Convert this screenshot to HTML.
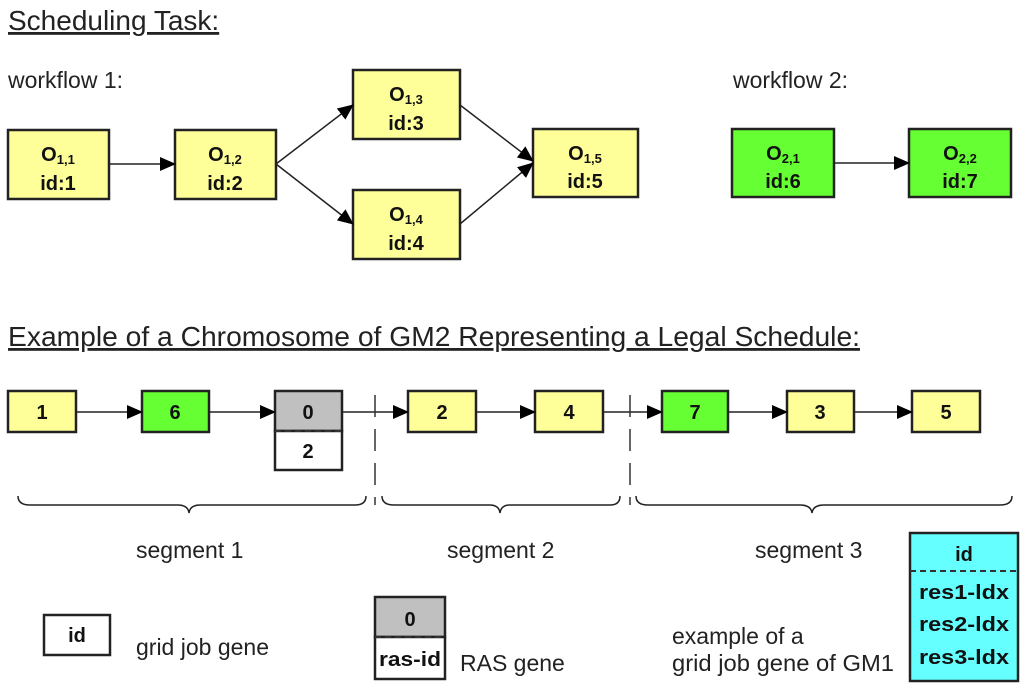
<!DOCTYPE html>
<html><head><meta charset="utf-8"><style>
html,body{margin:0;padding:0;background:#fff;}
svg{display:block;font-family:"Liberation Sans",Arial,sans-serif;}
.b{font-weight:bold;font-size:20px;fill:#111;}
.t{font-size:23px;fill:#222;}
</style></head><body>
<svg width="1024" height="689" viewBox="0 0 1024 689" xmlns="http://www.w3.org/2000/svg">
<defs><marker id="a" markerWidth="16" markerHeight="14" refX="15" refY="7" orient="auto" markerUnits="userSpaceOnUse"><path d="M0,0 L16,7 L0,14 z" fill="#000"/></marker></defs>
<text x="8" y="30" font-size="28" fill="#222" text-decoration="underline">Scheduling Task:</text>
<text x="8" y="88" class="t">workflow 1:</text>
<text x="733" y="88" class="t">workflow 2:</text>
<g stroke="#222" stroke-width="2.5">
<rect x="8" y="130" width="101" height="69" fill="#ffff99"/>
<rect x="175" y="130" width="101" height="69" fill="#ffff99"/>
<rect x="353" y="70" width="107" height="69" fill="#ffff99"/>
<rect x="353" y="190" width="107" height="69" fill="#ffff99"/>
<rect x="533" y="129" width="105" height="68" fill="#ffff99"/>
<rect x="732" y="129" width="102" height="68" fill="#66ff33"/>
<rect x="909" y="129" width="102" height="68" fill="#66ff33"/>
</g>
<g stroke="#222" stroke-width="1.5" fill="none" marker-end="url(#a)">
<line x1="109" y1="164" x2="175" y2="164"/>
<line x1="276" y1="164" x2="353" y2="105"/>
<line x1="276" y1="164" x2="353" y2="224"/>
<line x1="460" y1="105" x2="533" y2="161"/>
<line x1="460" y1="224" x2="533" y2="163"/>
<line x1="834" y1="163" x2="909" y2="163"/>
</g>
<g class="b" text-anchor="middle">
<text x="58" y="161">O<tspan font-size="13" dy="3">1,1</tspan></text><text x="58" y="190">id:1</text>
<text x="225" y="161">O<tspan font-size="13" dy="3">1,2</tspan></text><text x="225" y="190">id:2</text>
<text x="406" y="101">O<tspan font-size="13" dy="3">1,3</tspan></text><text x="406" y="130">id:3</text>
<text x="406" y="221">O<tspan font-size="13" dy="3">1,4</tspan></text><text x="406" y="250">id:4</text>
<text x="585" y="160">O<tspan font-size="13" dy="3">1,5</tspan></text><text x="585" y="188">id:5</text>
<text x="783" y="160">O<tspan font-size="13" dy="3">2,1</tspan></text><text x="783" y="188">id:6</text>
<text x="960" y="160">O<tspan font-size="13" dy="3">2,2</tspan></text><text x="960" y="188">id:7</text>
</g>
<text x="8" y="346" font-size="28" fill="#222" text-decoration="underline" textLength="852" lengthAdjust="spacingAndGlyphs">Example of a Chromosome of GM2 Representing a Legal Schedule:</text>
<g stroke="#222" stroke-width="2.5">
<rect x="8" y="391" width="68" height="41" fill="#ffff99"/>
<rect x="142" y="391" width="67" height="41" fill="#66ff33"/>
<rect x="275" y="391" width="67" height="40" fill="#c0c0c0"/>
<rect x="275" y="431" width="67" height="39" fill="#fff"/>
<rect x="408" y="391" width="68" height="41" fill="#ffff99"/>
<rect x="535" y="391" width="68" height="41" fill="#ffff99"/>
<rect x="662" y="391" width="66" height="41" fill="#66ff33"/>
<rect x="787" y="391" width="67" height="41" fill="#ffff99"/>
<rect x="912" y="391" width="68" height="41" fill="#ffff99"/>
</g>
<line x1="275" y1="431" x2="342" y2="431" stroke="#333" stroke-width="2" stroke-dasharray="6,4"/>
<g stroke="#222" stroke-width="1.5" fill="none" marker-end="url(#a)">
<line x1="76" y1="412" x2="142" y2="412"/>
<line x1="209" y1="412" x2="275" y2="412"/>
<line x1="342" y1="412" x2="408" y2="412"/>
<line x1="476" y1="412" x2="535" y2="412"/>
<line x1="603" y1="412" x2="662" y2="412"/>
<line x1="728" y1="412" x2="787" y2="412"/>
<line x1="854" y1="412" x2="912" y2="412"/>
</g>
<g stroke="#333" stroke-width="1.5" stroke-dasharray="22,12">
<line x1="375" y1="395" x2="375" y2="505"/>
<line x1="630" y1="395" x2="630" y2="505"/>
</g>
<g stroke="#222" stroke-width="1.5" fill="none">
<path d="M18,496 Q18,505 30,505 L178,505 Q188,505 189,513 Q190,505 200,505 L355,505 Q366,505 366,496"/>
<path d="M382,496 Q382,505 394,505 L490,505 Q499,505 500,513 Q501,505 510,505 L610,505 Q620,505 620,496"/>
<path d="M636,496 Q636,505 648,505 L800,505 Q811,505 812,513 Q813,505 824,505 L1000,505 Q1012,505 1012,496"/>
</g>
<g class="b" text-anchor="middle">
<text x="42" y="419">1</text><text x="175" y="419">6</text><text x="308" y="419">0</text><text x="308" y="458">2</text>
<text x="442" y="419">2</text><text x="569" y="419">4</text><text x="695" y="419">7</text><text x="820" y="419">3</text><text x="946" y="419">5</text>
</g>
<text x="136" y="558" class="t">segment 1</text>
<text x="447" y="558" class="t">segment 2</text>
<text x="755" y="558" class="t">segment 3</text>
<rect x="44" y="615" width="66" height="40" fill="#fff" stroke="#222" stroke-width="2.5"/>
<text x="77" y="642" class="b" text-anchor="middle">id</text>
<text x="136" y="655" class="t">grid job gene</text>
<rect x="375" y="597" width="70" height="40" fill="#c0c0c0" stroke="#222" stroke-width="2.5"/>
<rect x="375" y="637" width="70" height="42" fill="#fff" stroke="#222" stroke-width="2.5"/>
<line x1="375" y1="637" x2="445" y2="637" stroke="#333" stroke-width="2" stroke-dasharray="6,4"/>
<text x="410" y="626" class="b" text-anchor="middle">0</text>
<text x="410" y="666" class="b" text-anchor="middle" textLength="62" lengthAdjust="spacingAndGlyphs">ras-id</text>
<text x="460" y="671" class="t">RAS gene</text>
<text x="672" y="644" class="t">example of a</text>
<text x="672" y="671" class="t" textLength="222" lengthAdjust="spacingAndGlyphs">grid job gene of GM1</text>
<rect x="910" y="533" width="108" height="148" fill="#66ffff" stroke="#222" stroke-width="2.5"/>
<line x1="910" y1="571" x2="1018" y2="571" stroke="#333" stroke-width="2" stroke-dasharray="6,4"/>
<g class="b" text-anchor="middle">
<text x="964" y="561">id</text>
<text x="964" y="599" textLength="90" lengthAdjust="spacingAndGlyphs">res1-ldx</text>
<text x="964" y="631" textLength="90" lengthAdjust="spacingAndGlyphs">res2-ldx</text>
<text x="964" y="664" textLength="90" lengthAdjust="spacingAndGlyphs">res3-ldx</text>
</g>
</svg>
</body></html>
